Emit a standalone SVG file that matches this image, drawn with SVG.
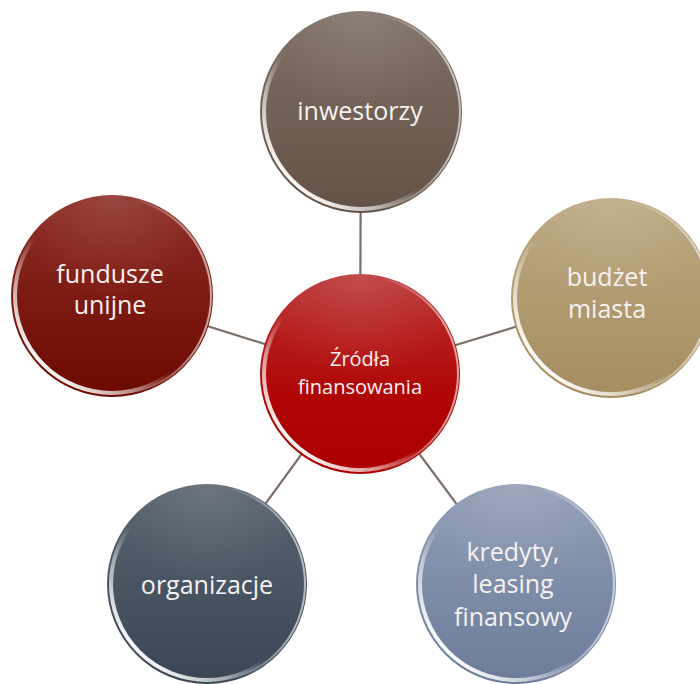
<svg xmlns="http://www.w3.org/2000/svg" width="700" height="684" viewBox="0 0 700 684">
<defs>
<linearGradient id="gBrown" x1="0" y1="0" x2="0" y2="1"><stop offset="0" stop-color="#7e6e64"/><stop offset="1" stop-color="#645246"/></linearGradient>
<linearGradient id="gRed" x1="0" y1="0" x2="0" y2="1"><stop offset="0" stop-color="#bb3434"/><stop offset="0.6" stop-color="#b00606"/><stop offset="1" stop-color="#ac0000"/></linearGradient>
<linearGradient id="gGold" x1="0" y1="0" x2="0" y2="1"><stop offset="0" stop-color="#bba881"/><stop offset="1" stop-color="#a68d60"/></linearGradient>
<linearGradient id="gMaroon" x1="0" y1="0" x2="0" y2="1"><stop offset="0" stop-color="#8c2c25"/><stop offset="1" stop-color="#6c0a00"/></linearGradient>
<linearGradient id="gSlate" x1="0" y1="0" x2="0" y2="1"><stop offset="0" stop-color="#58636f"/><stop offset="1" stop-color="#3a4656"/></linearGradient>
<linearGradient id="gSteel" x1="0" y1="0" x2="0" y2="1"><stop offset="0" stop-color="#909db5"/><stop offset="1" stop-color="#6c7c9a"/></linearGradient>
<linearGradient id="rim" x1="0.15" y1="0.85" x2="0.75" y2="0.25"><stop offset="0" stop-color="#ffffff" stop-opacity="0.95"/><stop offset="0.25" stop-color="#ffffff" stop-opacity="0.55"/><stop offset="0.5" stop-color="#ffffff" stop-opacity="0"/></linearGradient>
<linearGradient id="rimR" x1="0.95" y1="0.45" x2="0.6" y2="0.45"><stop offset="0" stop-color="#ffffff" stop-opacity="0.6"/><stop offset="1" stop-color="#ffffff" stop-opacity="0"/></linearGradient>
<radialGradient id="sheen" cx="0.5" cy="0.02" r="0.5"><stop offset="0" stop-color="#ffffff" stop-opacity="0.12"/><stop offset="1" stop-color="#ffffff" stop-opacity="0"/></radialGradient>
</defs>
<style>
.rim{fill:none;stroke:url(#rim);stroke-width:4}
.rimR{fill:none;stroke:url(#rimR);stroke-width:2}
.sheen{fill:url(#sheen)}
.t{font-family:"Open Sans","Noto Sans",sans-serif;font-size:25px;fill:#f6f2f1;text-anchor:middle}
.tc{font-size:20px}
.conn line{stroke:#7b6e66;stroke-width:2.2}
</style>
<g id="connectors" class="conn">
<line x1="360" y1="374" x2="361" y2="111"/>
<line x1="360" y1="374" x2="611" y2="298"/>
<line x1="360" y1="374" x2="112" y2="296"/>
<line x1="360" y1="374" x2="207" y2="584"/>
<line x1="360" y1="374" x2="516" y2="584"/>
</g>
<g id="node-inwestorzy">
<circle cx="361" cy="112" r="101" fill="url(#gBrown)"/>
<circle cx="361" cy="112" r="101" class="sheen"/>
<circle cx="361" cy="112" r="97" class="rim"/>
<circle cx="361" cy="112" r="99" class="rimR"/>
<text class="t" x="360" y="120">inwestorzy</text>
</g>
<g id="node-budzet">
<circle cx="611" cy="298" r="100" fill="url(#gGold)"/>
<circle cx="611" cy="298" r="100" class="sheen"/>
<circle cx="611" cy="298" r="96" class="rim"/>
<circle cx="611" cy="298" r="98" class="rimR"/>
<text class="t" x="607" y="286">budżet</text>
<text class="t" x="607" y="318">miasta</text>
</g>
<g id="node-fundusze">
<circle cx="112" cy="296" r="101" fill="url(#gMaroon)"/>
<circle cx="112" cy="296" r="101" class="sheen"/>
<circle cx="112" cy="296" r="97" class="rim"/>
<circle cx="112" cy="296" r="99" class="rimR"/>
<text class="t" x="110" y="283">fundusze</text>
<text class="t" x="110" y="314">unijne</text>
</g>
<g id="node-organizacje">
<circle cx="207" cy="584" r="100" fill="url(#gSlate)"/>
<circle cx="207" cy="584" r="100" class="sheen"/>
<circle cx="207" cy="584" r="96" class="rim"/>
<circle cx="207" cy="584" r="98" class="rimR"/>
<text class="t" x="207" y="594">organizacje</text>
</g>
<g id="node-kredyty">
<circle cx="516" cy="584" r="100" fill="url(#gSteel)"/>
<circle cx="516" cy="584" r="100" class="sheen"/>
<circle cx="516" cy="584" r="96" class="rim"/>
<circle cx="516" cy="584" r="98" class="rimR"/>
<text class="t" x="513" y="561">kredyty,</text>
<text class="t" x="513" y="593">leasing</text>
<text class="t" x="513" y="626">finansowy</text>
</g>
<g id="node-center">
<circle cx="360" cy="374" r="100" fill="url(#gRed)"/>
<circle cx="360" cy="374" r="100" class="sheen"/>
<circle cx="360" cy="374" r="96" class="rim"/>
<circle cx="360" cy="374" r="98" class="rimR"/>
<text class="t tc" x="360" y="366">Źródła</text>
<text class="t tc" x="360" y="394">finansowania</text>
</g>
</svg>
